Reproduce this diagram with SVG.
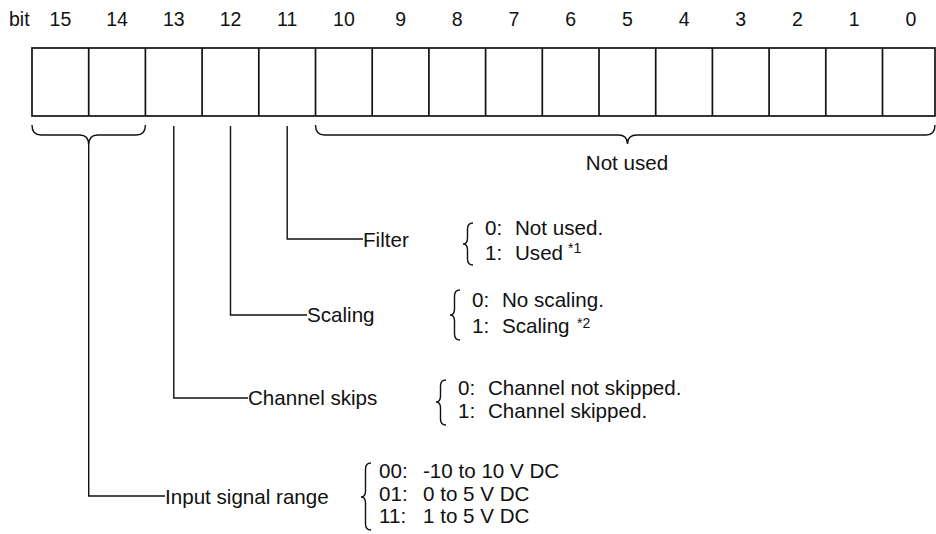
<svg xmlns="http://www.w3.org/2000/svg" width="936" height="534" viewBox="0 0 936 534">
<style>
text{font-family:"Liberation Sans",Arial,Helvetica,sans-serif;fill:#111;}
.hd{font-size:19.5px;text-anchor:middle;}
.t{font-size:20.6px;}
.sup{font-size:14px;}
.ln{fill:none;stroke:#111;stroke-width:1.4;}
.box{fill:none;stroke:#111;stroke-width:1.7;}
</style>
<rect width="936" height="534" fill="#fff"/>
<g id="register">
<text x="9" y="26" style="font-size:19.5px">bit</text>
<g class="hd">
<text x="60.4" y="26">15</text><text x="117.1" y="26">14</text><text x="173.8" y="26">13</text><text x="230.5" y="26">12</text>
<text x="287.2" y="26">11</text><text x="343.9" y="26">10</text><text x="400.6" y="26">9</text><text x="457.3" y="26">8</text>
<text x="514" y="26">7</text><text x="570.7" y="26">6</text><text x="627.4" y="26">5</text><text x="684.1" y="26">4</text>
<text x="740.8" y="26">3</text><text x="797.5" y="26">2</text><text x="854.2" y="26">1</text><text x="910.9" y="26">0</text>
</g>
<rect x="32" y="48" width="903" height="68" class="box"/>
<path class="box" d="M88.7,48V116M145.4,48V116M202.1,48V116M258.8,48V116M315.5,48V116M372.2,48V116M428.9,48V116M485.6,48V116M542.3,48V116M599,48V116M655.7,48V116M712.4,48V116M769.1,48V116M825.8,48V116M882.5,48V116"/>
</g>
<g id="connectors">
<path class="ln" d="M32,125Q32,135 41,135L79.7,135Q88.7,135 88.7,145Q88.7,135 97.7,135L136.4,135Q145.4,135 145.4,125"/>
<path class="ln" d="M315.5,125Q315.5,135 324.5,135L618,135Q627.5,135 627.5,144Q627.5,135 637,135L926,135Q935,135 935,125"/>
<path class="ln" d="M88.7,145V496H165"/>
<path class="ln" d="M173.8,126V398H248"/>
<path class="ln" d="M230.5,126V315H307"/>
<path class="ln" d="M287.2,126V239H363"/>
</g>
<g id="not-used">
<text x="627" y="170" class="t" text-anchor="middle">Not used</text>
</g>
<g id="filter">
<text x="363" y="247" class="t">Filter</text>
<path class="ln" d="M473,223Q467.5,223 467.5,229L467.5,238Q467.5,244 463,244Q467.5,244 467.5,250L467.5,259Q467.5,265 473,265"/>
<text y="235" class="t"><tspan x="485">0:</tspan><tspan x="515">Not used.</tspan></text>
<text y="260" class="t"><tspan x="485">1:</tspan><tspan x="515">Used</tspan><tspan class="sup" x="568" y="253">*1</tspan></text>
</g>
<g id="scaling">
<text x="307" y="322" class="t">Scaling</text>
<path class="ln" d="M460,290Q454.5,290 454.5,296L454.5,309Q454.5,315 450,315Q454.5,315 454.5,321L454.5,334Q454.5,340 460,340"/>
<text y="307" class="t"><tspan x="472">0:</tspan><tspan x="502">No scaling.</tspan></text>
<text y="333" class="t"><tspan x="472">1:</tspan><tspan x="502">Scaling</tspan><tspan class="sup" x="577" y="328">*2</tspan></text>
</g>
<g id="channel-skips">
<text x="248" y="405" class="t">Channel skips</text>
<path class="ln" d="M446,380Q440.5,380 440.5,386L440.5,396Q440.5,402 436,402Q440.5,402 440.5,408L440.5,419Q440.5,425 446,425"/>
<text y="395" class="t"><tspan x="458">0:</tspan><tspan x="488">Channel not skipped.</tspan></text>
<text y="418" class="t"><tspan x="458">1:</tspan><tspan x="488">Channel skipped.</tspan></text>
</g>
<g id="input-signal-range">
<text x="165" y="504" class="t">Input signal range</text>
<path class="ln" d="M371,463Q365.5,463 365.5,469L365.5,491Q365.5,497 361,497Q365.5,497 365.5,503L365.5,524Q365.5,530 371,530"/>
<text y="478" class="t"><tspan x="379">00:</tspan><tspan x="423">-10 to 10 V DC</tspan></text>
<text y="501" class="t"><tspan x="379">01:</tspan><tspan x="423">0 to 5 V DC</tspan></text>
<text y="523" class="t"><tspan x="379">11:</tspan><tspan x="423">1 to 5 V DC</tspan></text>
</g>
</svg>
